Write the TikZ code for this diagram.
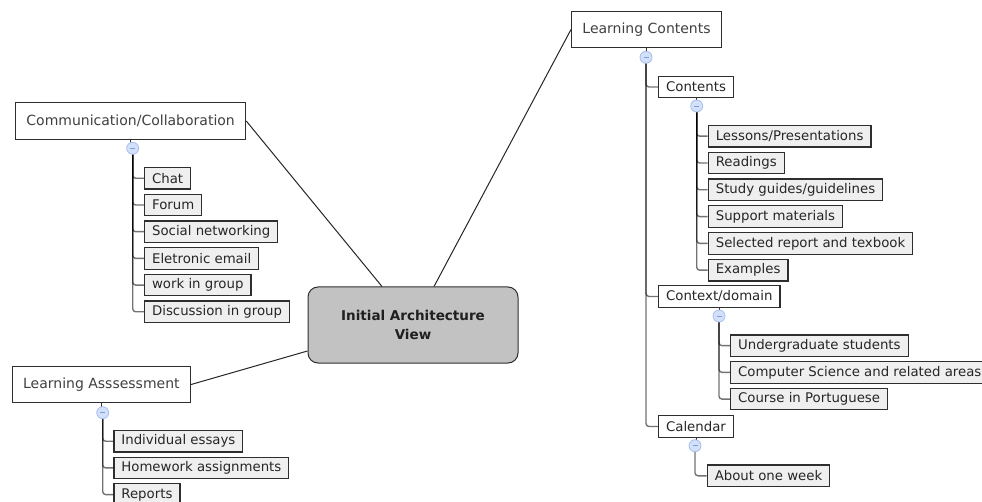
\documentclass[tikz,border=0pt]{standalone}
\usepackage{fontspec}
\setmainfont{DejaVu Sans}
\usetikzlibrary{calc}
\definecolor{tglfill}{HTML}{D3E0FA}
\definecolor{tgldraw}{HTML}{A6BEEE}
\definecolor{tglminus}{HTML}{7F9CDB}
\definecolor{leaffill}{HTML}{EFEFEF}
\definecolor{centerfill}{HTML}{C2C2C2}
\definecolor{edge}{HTML}{2E2E2E}
\begin{document}
\begin{tikzpicture}[x=1pt,y=-1pt,
  topic/.style={draw=edge, fill=white, line width=0.9pt, inner xsep=11pt, inner ysep=0pt,
    minimum height=36.5pt, font=\fontsize{14}{16}\selectfont, text=black!75, anchor=west},
  sub/.style={draw=edge, fill=white, line width=1.2pt, inner xsep=7.5pt, inner ysep=0pt,
    minimum height=21.5pt, font=\fontsize{13.3}{15}\selectfont, text=black!85, anchor=west},
  leaf/.style={sub, fill=leaffill},
  central/.style={draw=edge, fill=centerfill, line width=1pt, rounded corners=10pt,
    minimum width=210pt, minimum height=76pt, align=center,
    font=\fontsize{13.5}{18.6}\selectfont\bfseries, text=black!88},
  toggle/.style={circle, draw=tgldraw, fill=tglfill, line width=0.8pt, minimum size=12pt, inner sep=0pt},
  stem/.style={draw=black!80, line width=1pt},
  link/.style={draw=black, line width=1.4pt, opacity=0.55, rounded corners=3pt},
  spoke/.style={draw=black!85, line width=1pt}
]
\useasboundingbox (0,0) rectangle (982,502);

% central
\node[central] (center) at (413,325) {Initial Architecture\\View};

% topics
\node[topic] (comm) at (15,121) {Communication/Collaboration};
\node[topic] (lc) at (571,29.5) {Learning Contents};
\node[topic] (la) at (11.7,384.5) {Learning Asssessment};

% spokes
\draw[spoke] (comm.east) -- ($(center.north)+(-31,0)$);
\draw[spoke] (lc.west) -- ($(center.north)+(21,0)$);
\draw[spoke] (la.east) -- ($(center.west)+(0,26)$);

% toggles
\newcommand{\tgl}[2]{%
  \node[toggle] (#1) at #2 {};
  \draw[tglminus, line width=0.7pt] ($(#1.center)+(-2.5,0)$) -- ($(#1.center)+(2.5,0)$);
}

% Communication branch
\draw[stem] (comm.south) -- +(0,4);
\node[leaf] (chat) at (144,178.3) {Chat};
\node[leaf] (forum) at (144,205) {Forum};
\node[leaf] (social) at (144,231.7) {Social networking};
\node[leaf] (email) at (144,258.4) {Eletronic email};
\node[leaf] (work) at (144,285.1) {work in group};
\node[leaf] (disc) at (144,311.8) {Discussion in group};
\foreach \c in {chat,forum,social,email,work,disc}
  \draw[link] (132.7,154) |- (\c.west);
\tgl{tcomm}{(132.7,148.3)}

% Learning Assessment branch
\draw[stem] (la.south) -- +(0,4);
\node[leaf] (essays) at (113.3,441.2) {Individual essays};
\node[leaf] (homework) at (113.3,467.9) {Homework assignments};
\node[leaf] (reports) at (113.3,494.6) {Reports};
\foreach \c in {essays,homework,reports}
  \draw[link] (102.7,418.5) |- (\c.west);
\tgl{tla}{(102.7,412.7)}

% Learning Contents branch
\draw[stem] (lc.south) -- +(0,4);
\node[sub] (contents) at (658,87) {Contents};
\node[sub] (context) at (658,296.5) {Context/domain};
\node[sub] (calendar) at (658,426.5) {Calendar};
\foreach \c in {contents,context,calendar}
  \draw[link] (646,63) |- (\c.west);
\tgl{tlc}{(646,57.3)}

% Contents children
\draw[stem] (contents.south) -- +(0,3);
\node[leaf] (lessons) at (707.7,136.2) {Lessons/Presentations};
\node[leaf] (readings) at (707.7,163) {Readings};
\node[leaf] (study) at (707.7,189.8) {Study guides/guidelines};
\node[leaf] (support) at (707.7,216.6) {Support materials};
\node[leaf] (selected) at (707.7,243.4) {Selected report and texbook};
\node[leaf] (examples) at (707.7,270.2) {Examples};
\foreach \c in {lessons,readings,study,support,selected,examples}
  \draw[link] (696.7,111.7) |- (\c.west);
\tgl{tcontents}{(696.7,106)}

% Context children
\draw[stem] (context.south) -- +(0,3);
\node[leaf] (undergrad) at (730,345.7) {Undergraduate students};
\node[leaf] (cs) at (730,372.4) {Computer Science and related areas};
\node[leaf] (course) at (730,399.1) {Course in Portuguese};
\foreach \c in {undergrad,cs,course}
  \draw[link] (719,321.7) |- (\c.west);
\tgl{tcontext}{(719,316)}

% Calendar child
\draw[stem] (calendar.south) -- +(0,3);
\node[leaf] (week) at (706.7,475.8) {About one week};
\draw[link] (695,451.4) |- (week.west);
\tgl{tcal}{(695,445.7)}
\end{tikzpicture}
\end{document}
